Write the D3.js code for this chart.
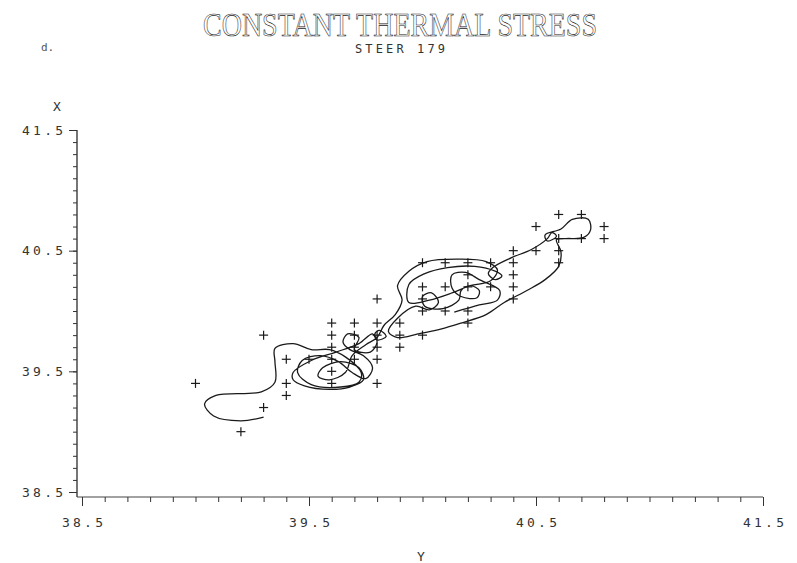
<!DOCTYPE html>
<html>
<head>
<meta charset="utf-8">
<script src="https://cdn.jsdelivr.net/npm/d3@7/dist/d3.min.js"></script>
<style>
  html, body { margin: 0; padding: 0; background: #fff; }
  svg { display: block; }
  text { -webkit-font-smoothing: antialiased; }
</style>
</head>
<body>
<svg id="chart" width="797" height="563"></svg>
<script>
// Observed readings: Y (horizontal) and X (vertical), one entry per "+" mark
const obsY = [40.6, 40.7, 40.5, 40.8, 40.6, 40.7, 40.8, 40.4, 40.5, 40.6,
              40.0, 40.1, 40.2, 40.3, 40.4, 40.6, 40.2, 40.4, 40.0, 40.1,
              40.2, 40.3, 40.4, 39.8, 40.0, 40.4, 40.0, 40.1, 40.2, 39.6,
              39.7, 39.8, 39.9, 40.2, 39.3, 39.6, 39.7, 39.8, 39.9, 40.0,
              39.6, 39.7, 39.8, 39.9, 39.4, 39.5, 39.6, 39.7, 39.8, 39.6,
              39.0, 39.4, 39.6, 39.8, 39.4, 39.3, 39.2];
const obsX = [40.8, 40.8, 40.7, 40.7, 40.6, 40.6, 40.6, 40.5, 40.5, 40.5,
              40.4, 40.4, 40.4, 40.4, 40.4, 40.4, 40.3, 40.3, 40.2, 40.2,
              40.2, 40.2, 40.2, 40.1, 40.1, 40.1, 40.0, 40.0, 40.0, 39.9,
              39.9, 39.9, 39.9, 39.9, 39.8, 39.8, 39.8, 39.8, 39.8, 39.8,
              39.7, 39.7, 39.7, 39.7, 39.6, 39.6, 39.6, 39.6, 39.6, 39.5,
              39.4, 39.4, 39.4, 39.4, 39.3, 39.2, 39.0];

// Smoothed trajectory through the readings, in time order
const pathY = [39.30, 39.20, 39.08, 39.04, 39.09, 39.29, 39.35, 39.35, 39.35, 39.43,
               39.51, 39.59, 39.66, 39.73, 39.72, 39.64, 39.51, 39.45, 39.47, 39.55,
               39.63, 39.69, 39.75, 39.78, 39.74, 39.68, 39.65, 39.67, 39.72, 39.70,
               39.77, 39.80, 39.79, 39.81, 39.84, 39.80, 39.78,
               39.72, 39.62, 39.51, 39.43, 39.43, 39.48, 39.59, 39.68, 39.74, 39.72,
               39.64, 39.56, 39.54, 39.59, 39.66, 39.69, 39.75, 39.80,
               39.83, 39.88, 39.91,
               39.89, 39.94, 40.02, 40.16, 40.28, 40.33, 40.30, 40.21, 40.13, 40.03, 39.94,
               39.94, 40.01, 40.11, 40.23, 40.32, 40.35, 40.32, 40.29, 40.31, 40.39,
               40.48, 40.55, 40.57, 40.59, 40.55, 40.54, 40.61, 40.66, 40.73, 40.74,
               40.71, 40.63, 40.59, 40.61, 40.60, 40.54, 40.46, 40.36, 40.28, 40.17,
               40.08, 39.98, 39.89, 39.85, 39.89, 39.97, 40.03, 40.07, 40.04, 40.00,
               40.01, 40.09, 40.16, 40.17, 40.21, 40.25, 40.24, 40.17, 40.13, 40.13,
               40.19, 40.25, 40.34, 40.33, 40.25, 40.14];
const pathX = [39.12, 39.09, 39.13, 39.23, 39.30, 39.33, 39.41, 39.58, 39.69, 39.73,
               39.68, 39.68, 39.62, 39.49, 39.41, 39.37, 39.39, 39.49, 39.59, 39.63,
               39.58, 39.49, 39.44, 39.53, 39.63, 39.68, 39.74, 39.81, 39.78, 39.68,
               39.66, 39.74, 39.81, 39.84, 39.79, 39.76, 39.81,
               39.73, 39.66, 39.59, 39.49, 39.43, 39.38, 39.35, 39.37, 39.43, 39.53,
               39.58, 39.53, 39.46, 39.43, 39.49, 39.63, 39.72, 39.78,
               39.88, 39.97, 40.09,
               40.21, 40.33, 40.41, 40.43, 40.41, 40.34, 40.25, 40.21, 40.15, 40.09, 40.07,
               40.22, 40.31, 40.36, 40.37, 40.33, 40.29, 40.26, 40.31, 40.36, 40.44,
               40.51, 40.60, 40.65, 40.62, 40.58, 40.63, 40.68, 40.76, 40.76, 40.67,
               40.61, 40.60, 40.59, 40.49, 40.37, 40.26, 40.17, 40.07, 39.97, 39.90,
               39.85, 39.81, 39.78, 39.83, 39.94, 40.04, 40.01, 40.07, 40.15, 40.12,
               40.04, 40.02, 40.09, 40.17, 40.21, 40.17, 40.11, 40.12, 40.19, 40.30,
               40.32, 40.26, 40.17, 40.09, 40.05, 39.99];

const majorTicks = [38.5, 39.5, 40.5, 41.5];
const tickLabels = ["38.5", "39.5", "40.5", "41.5"];
const minorTicks = d3.range(0, 31).map(i => +(38.5 + i * 0.1).toFixed(1));

const titleText = "CONSTANT THERMAL STRESS";
const subtitleText = "STEER 179";
const cornerText = "d.";
const xAxisName = "Y";
const yAxisName = "X";

const svg = d3.select("#chart");
svg.append("rect").attr("width", 797).attr("height", 563).attr("fill", "#fff");

const x = d3.scaleLinear().domain([38.5, 41.5]).range([82, 763]);
const y = d3.scaleLinear().domain([38.5, 41.5]).range([492, 130]);

const ink = "#1a1a1a";
const tickFont = "'DejaVu Sans Mono', 'Liberation Mono', monospace";

// Titles (outlined serif lettering, grayscale-smoothed)
svg.append("text")
  .attr("x", 400).attr("y", 36)
  .attr("text-anchor", "middle")
  .attr("font-family", "'Liberation Serif', 'DejaVu Serif', serif")
  .attr("font-size", 33)
  .attr("textLength", 394).attr("lengthAdjust", "spacingAndGlyphs")
  .attr("fill", "#fff").attr("stroke", "#222").attr("stroke-width", 0.6)
  .attr("opacity", 0.99)
  .text(titleText);

svg.append("text")
  .attr("x", 400).attr("y", 53)
  .attr("text-anchor", "middle")
  .attr("font-family", tickFont)
  .attr("font-size", 12)
  .attr("textLength", 90).attr("lengthAdjust", "spacing")
  .attr("fill", "#333")
  .text(subtitleText);

svg.append("text")
  .attr("x", 41).attr("y", 51)
  .attr("font-family", tickFont)
  .attr("font-size", 11)
  .attr("fill", "#555")
  .text(cornerText);

// Axis frame lines
const axisLeftX = 77, axisBottomY = 497;
svg.append("line")
  .attr("x1", axisLeftX).attr("x2", axisLeftX)
  .attr("y1", y(41.5)).attr("y2", axisBottomY)
  .attr("stroke", ink).attr("stroke-width", 1.2);
svg.append("line")
  .attr("x1", axisLeftX).attr("x2", x(41.5))
  .attr("y1", axisBottomY).attr("y2", axisBottomY)
  .attr("stroke", "#444").attr("stroke-width", 1);

// Bottom axis: minor then major ticks
const gxMinor = svg.append("g").attr("transform", `translate(0,${axisBottomY})`)
  .call(d3.axisBottom(x).tickValues(minorTicks).tickSize(5).tickFormat(""));
const gxMajor = svg.append("g").attr("transform", `translate(0,${axisBottomY})`)
  .call(d3.axisBottom(x).tickValues(majorTicks).tickSize(9).tickPadding(12)
    .tickFormat((d, i) => tickLabels[i]));

// Left axis: minor then major ticks
const gyMinor = svg.append("g").attr("transform", `translate(${axisLeftX},0)`)
  .call(d3.axisLeft(y).tickValues(minorTicks).tickSize(4).tickFormat(""));
const gyMajor = svg.append("g").attr("transform", `translate(${axisLeftX},0)`)
  .call(d3.axisLeft(y).tickValues(majorTicks).tickSize(8).tickPadding(6)
    .tickFormat((d, i) => tickLabels[i]));

[gxMinor, gxMajor, gyMinor, gyMajor].forEach(g => {
  g.select(".domain").remove();
  g.selectAll(".tick line").attr("stroke", "#333").attr("stroke-width", 1);
  g.selectAll(".tick text")
    .attr("font-family", tickFont)
    .attr("font-size", 13)
    .attr("fill", "#333")
    .attr("textLength", 41).attr("lengthAdjust", "spacing");
});

// Axis names
svg.append("text")
  .attr("x", 57).attr("y", 111)
  .attr("text-anchor", "middle")
  .attr("font-family", tickFont).attr("font-size", 13).attr("fill", "#333")
  .text(yAxisName);
svg.append("text")
  .attr("x", 421).attr("y", 561)
  .attr("text-anchor", "middle")
  .attr("font-family", tickFont).attr("font-size", 13).attr("fill", "#333")
  .text(xAxisName);

// Trajectory
const pts = pathY.map((v, i) => [v, pathX[i]]);
const line = d3.line()
  .x(d => x(d[0])).y(d => y(d[1]))
  .curve(d3.curveCatmullRom.alpha(0.5));
svg.append("path")
  .attr("d", line(pts))
  .attr("fill", "none")
  .attr("stroke", ink)
  .attr("stroke-width", 1.3)
  .attr("stroke-linejoin", "round");

// "+" markers
const arm = 4.5;
const marks = svg.append("g").attr("stroke", ink).attr("stroke-width", 1.2);
obsY.forEach((v, i) => {
  const cx = x(v), cy = y(obsX[i]);
  marks.append("line").attr("x1", cx - arm).attr("x2", cx + arm).attr("y1", cy).attr("y2", cy);
  marks.append("line").attr("x1", cx).attr("x2", cx).attr("y1", cy - arm).attr("y2", cy + arm);
});
</script>
</body>
</html>
